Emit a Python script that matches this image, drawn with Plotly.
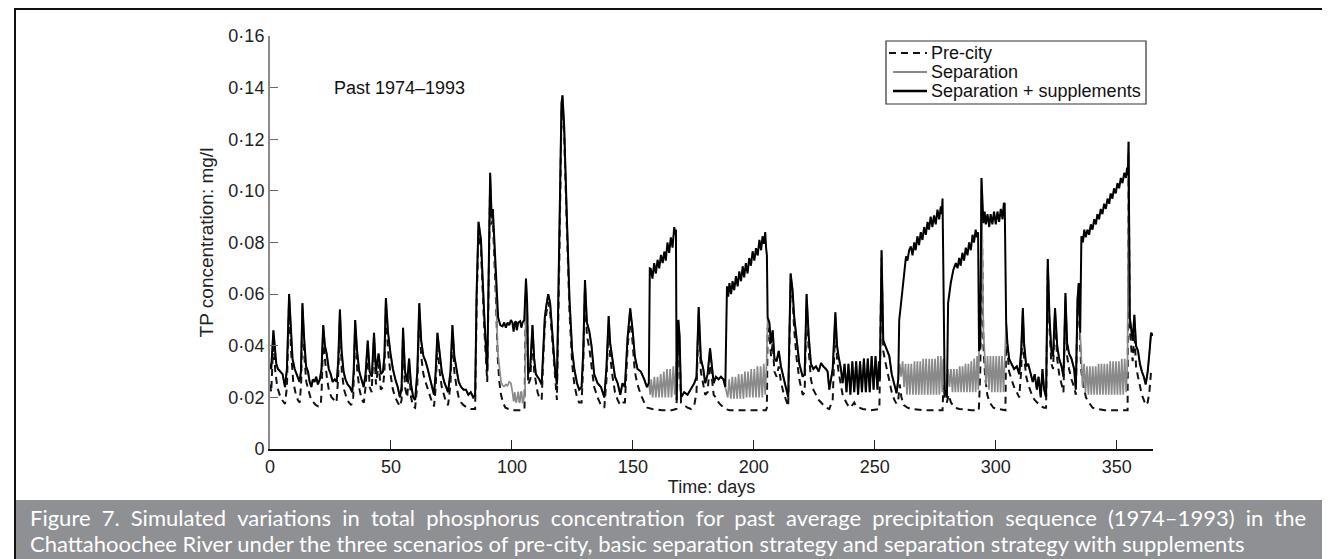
import plotly.graph_objects as go

# ---------------- data ----------------
# Separation + supplements (black solid): (day, TP mg/l) vertices
supp_pts = [
    (0, 0.033), (0.5, 0.031), (1.4, 0.046), (2, 0.038), (2.6, 0.033), (3.3, 0.031), (4.2, 0.030), (5.2, 0.029),
    (6.2, 0.024), (7, 0.031), (7.9, 0.060), (8.6, 0.045), (9.3, 0.035), (10.2, 0.031), (11.1, 0.029), (12.2, 0.026),
    (12.8, 0.030), (13.4, 0.0565), (14.1, 0.043), (14.9, 0.032), (15.7, 0.030), (16.4, 0.026), (17.1, 0.024), (17.7, 0.027),
    (18.4, 0.026), (19.1, 0.028), (19.8, 0.025), (20.6, 0.027), (21.3, 0.031), (22, 0.048), (22.7, 0.040), (23.4, 0.037),
    (24.3, 0.031), (25.1, 0.029), (25.9, 0.026), (26.8, 0.027), (27.6, 0.026), (28.2, 0.034), (28.9, 0.054), (29.6, 0.038),
    (30.4, 0.030), (31.2, 0.027), (32.1, 0.025), (33, 0.024), (34, 0.022), (34.6, 0.030), (35.2, 0.050), (36, 0.038),
    (36.9, 0.030), (37.8, 0.027), (38.7, 0.024), (39.5, 0.029), (40.4, 0.042), (41.2, 0.030), (42.1, 0.028), (43, 0.045),
    (43.8, 0.030), (44.9, 0.037), (45.8, 0.029), (46.7, 0.030), (47.3, 0.036), (47.9, 0.0585), (48.8, 0.045), (49.8, 0.037),
    (50.8, 0.031), (51.8, 0.027), (52.8, 0.024), (53.7, 0.020), (54.4, 0.024), (55, 0.047), (55.8, 0.030), (56.7, 0.026),
    (57.5, 0.035), (58.3, 0.025), (59.2, 0.020), (60, 0.019), (60.9, 0.030), (61.7, 0.0565), (62.5, 0.042), (63.4, 0.036),
    (64.3, 0.034), (65.2, 0.031), (66.1, 0.027), (67, 0.024), (67.8, 0.021), (68.5, 0.030), (69.2, 0.045), (70, 0.038),
    (71, 0.030), (72, 0.026), (72.8, 0.024), (73.6, 0.022), (74.6, 0.030), (75.4, 0.048), (76.2, 0.036), (77.1, 0.030),
    (78, 0.026), (79, 0.024), (80, 0.023), (81, 0.023), (82, 0.021), (83, 0.022), (84, 0.020), (84.8, 0.021),
    (85.4, 0.060), (86.2, 0.088), (87.2, 0.081), (88.6, 0.051), (89.8, 0.030), (91.0, 0.107), (91.6, 0.090), (92.1, 0.093),
    (92.7, 0.081), (93.4, 0.064), (94.3, 0.051), (95.2, 0.048), (96.1, 0.0475), (96.8, 0.049), (97.5, 0.047), (98.2, 0.049),
    (98.9, 0.048), (99.6, 0.050), (100.2, 0.049), (100.7, 0.0455), (101.2, 0.049), (101.6, 0.0495), (102.0, 0.046), (102.6, 0.049),
    (103.4, 0.0495), (103.9, 0.047), (104.4, 0.049), (105.1, 0.050), (105.8, 0.066), (106.3, 0.0565), (106.7, 0.029), (107.6, 0.032),
    (108.5, 0.048), (109.2, 0.035), (109.9, 0.029), (110.6, 0.028), (111.3, 0.027), (112.3, 0.025), (113.0, 0.041), (113.6, 0.051),
    (114.3, 0.056), (115.0, 0.060), (115.8, 0.0565), (116.8, 0.044), (117.8, 0.031), (118.6, 0.025), (119.6, 0.077), (120.5, 0.134),
    (120.9, 0.137), (121.6, 0.125), (122.7, 0.090), (123.8, 0.058), (124.9, 0.038), (125.8, 0.031), (126.9, 0.0255), (127.8, 0.023),
    (128.8, 0.024), (129.5, 0.038), (130.2, 0.0655), (131.0, 0.049), (132.0, 0.0455), (132.9, 0.040), (134.0, 0.029), (135.4, 0.0255),
    (136.8, 0.024), (138.2, 0.020), (139.1, 0.032), (140.0, 0.0515), (140.6, 0.041), (141.6, 0.035), (142.6, 0.028), (143.7, 0.0255),
    (144.8, 0.021), (145.7, 0.0255), (146.7, 0.024), (147.8, 0.043), (148.9, 0.0545), (149.9, 0.046), (150.8, 0.036), (151.9, 0.031),
    (153.3, 0.030), (154.7, 0.027), (155.8, 0.024), (156.6, 0.0255), (157.0, 0.070), (157.4, 0.0698), (158.1, 0.066), (158.8, 0.072),
    (159.5, 0.068), (160.2, 0.0733), (160.9, 0.070), (161.6, 0.0752), (162.3, 0.072), (163.0, 0.0765), (163.6, 0.073), (164.3, 0.080),
    (165.0, 0.076), (165.7, 0.082), (166.4, 0.078), (167.1, 0.086), (167.5, 0.083), (167.8, 0.085), (168.1, 0.019), (168.8, 0.050),
    (169.3, 0.044), (169.9, 0.020), (171.2, 0.022), (172.6, 0.021), (174.0, 0.023), (175.4, 0.0255), (176.3, 0.028), (177.2, 0.055),
    (178.1, 0.035), (179.1, 0.031), (179.9, 0.0255), (180.9, 0.029), (181.9, 0.039), (182.6, 0.033), (183.4, 0.0255), (184.3, 0.028),
    (185.4, 0.027), (186.4, 0.028), (187.4, 0.027), (188.2, 0.024), (188.9, 0.063), (189.4, 0.059), (189.9, 0.0643), (190.6, 0.060),
    (191.2, 0.065), (191.9, 0.0615), (192.6, 0.067), (193.3, 0.063), (194.0, 0.0688), (194.7, 0.065), (195.4, 0.0708), (196.0, 0.0665),
    (196.7, 0.072), (197.4, 0.068), (198.1, 0.074), (198.8, 0.071), (199.5, 0.0766), (200.2, 0.073), (200.9, 0.0778), (201.6, 0.075),
    (202.3, 0.081), (203.0, 0.077), (203.6, 0.0824), (204.2, 0.0795), (204.7, 0.084), (205.1, 0.0775), (205.4, 0.075), (205.7, 0.051),
    (206.4, 0.049), (207.1, 0.041), (207.8, 0.046), (208.5, 0.035), (209.4, 0.034), (210.3, 0.038), (211.2, 0.032), (212.2, 0.028),
    (213.3, 0.024), (214.2, 0.020), (215.2, 0.068), (216.0, 0.0617), (216.7, 0.051), (217.7, 0.041), (218.8, 0.033), (220.2, 0.028),
    (221.0, 0.029), (221.8, 0.060), (222.7, 0.0436), (223.6, 0.033), (224.6, 0.031), (225.7, 0.032), (226.8, 0.030), (227.8, 0.0333),
    (228.7, 0.032), (229.8, 0.031), (230.5, 0.030), (231.2, 0.023), (232.6, 0.031), (233.7, 0.053), (234.4, 0.040), (235.0, 0.036),
    (236.0, 0.031), (236.7, 0.0255), (237.5, 0.033), (238.3, 0.022), (239.1, 0.033), (239.9, 0.021), (240.7, 0.034), (241.5, 0.022),
    (242.3, 0.034), (243.1, 0.021), (243.9, 0.034), (244.7, 0.022), (245.5, 0.035), (246.3, 0.022), (247.1, 0.035), (247.9, 0.022),
    (248.7, 0.036), (249.5, 0.023), (250.3, 0.036), (251.1, 0.023), (251.7, 0.034), (252.1, 0.027),
    (252.8, 0.077), (253.5, 0.042), (254.3, 0.040), (255.3, 0.038), (256.0, 0.036), (257.0, 0.029), (258.1, 0.025), (259.0, 0.0216),
    (259.7, 0.027), (260.1, 0.050), (260.8, 0.056), (261.5, 0.0617), (262.2, 0.068), (262.9, 0.0746), (263.5, 0.073), (264.2, 0.077),
    (264.9, 0.0785), (265.6, 0.075), (266.3, 0.080), (266.9, 0.077), (267.6, 0.0824), (268.3, 0.079), (269.0, 0.084), (269.7, 0.081),
    (270.4, 0.086), (271.1, 0.083), (271.8, 0.088), (272.4, 0.085), (273.1, 0.090), (273.8, 0.086), (274.5, 0.0905), (275.2, 0.087),
    (275.9, 0.0927), (276.6, 0.089), (277.3, 0.094), (277.7, 0.091), (278.0, 0.097), (278.4, 0.060), (278.9, 0.023), (279.8, 0.020),
    (280.3, 0.0565), (281.4, 0.0643), (282.5, 0.0695), (283.5, 0.072), (284.2, 0.070), (284.9, 0.074), (285.5, 0.071), (286.2, 0.076),
    (286.9, 0.073), (287.6, 0.078), (288.3, 0.075), (289.0, 0.080), (289.7, 0.077), (290.4, 0.083), (291.0, 0.080), (291.7, 0.085),
    (292.2, 0.082), (292.7, 0.084), (293.1, 0.038), (293.6, 0.040), (294.1, 0.105), (294.9, 0.0875), (295.4, 0.092), (295.9, 0.087),
    (296.6, 0.091), (297.3, 0.086), (297.9, 0.091), (298.6, 0.087), (299.3, 0.092), (300.0, 0.087), (300.7, 0.092), (301.4, 0.088),
    (302.1, 0.093), (302.8, 0.089), (303.3, 0.095), (303.7, 0.0953), (304.3, 0.049), (304.8, 0.041), (305.5, 0.035), (306.5, 0.033),
    (307.6, 0.031), (308.7, 0.032), (309.7, 0.029), (310.5, 0.038), (311.2, 0.0546), (311.7, 0.041), (312.6, 0.032), (313.4, 0.033),
    (314.5, 0.029), (315.3, 0.026), (316.1, 0.029), (317.0, 0.023), (317.7, 0.028), (318.6, 0.020), (319.3, 0.031), (320.0, 0.023),
    (320.8, 0.020), (321.5, 0.0736), (322.2, 0.051), (323.0, 0.038), (323.7, 0.036), (324.5, 0.0546), (325.4, 0.040), (326.2, 0.035),
    (327.2, 0.032), (328.0, 0.028), (328.8, 0.0604), (329.5, 0.041), (330.3, 0.037), (331.3, 0.035), (332.4, 0.031), (333.1, 0.023),
    (333.8, 0.058), (334.3, 0.0643), (334.9, 0.045), (335.4, 0.0824), (336.0, 0.080), (336.6, 0.085), (337.2, 0.082), (337.9, 0.085),
    (338.6, 0.083), (339.3, 0.087), (340.0, 0.085), (340.7, 0.089), (341.4, 0.087), (342.0, 0.091), (342.7, 0.089), (343.4, 0.093),
    (344.1, 0.091), (344.8, 0.095), (345.5, 0.093), (346.2, 0.097), (346.9, 0.095), (347.5, 0.099), (348.2, 0.097), (348.9, 0.101),
    (349.6, 0.099), (350.3, 0.103), (351.0, 0.101), (351.7, 0.105), (352.4, 0.103), (353.1, 0.107), (353.8, 0.105), (354.3, 0.109),
    (354.6, 0.106), (354.9, 0.119), (355.4, 0.051), (356.1, 0.045), (356.6, 0.042), (357.3, 0.052), (358.0, 0.040), (358.8, 0.038),
    (359.6, 0.033), (360.4, 0.030), (361.2, 0.028), (362.0, 0.025), (362.8, 0.030), (363.5, 0.037), (364.2, 0.045), (365.0, 0.044),
]

# Separation (grey): identical to the black curve except inside the supplement periods below
supplement_periods = [(93.5, 105.7), (156.8, 168.0), (188.8, 205.5), (259.9, 278.5),
                      (280.0, 293.0), (294.5, 304.0), (335.2, 354.8)]
sep_period_pts = [
    (94.1, 0.038), (94.8, 0.031), (95.5, 0.026), (96.2, 0.0245), (96.8, 0.0242), (97.5, 0.025), (98.2, 0.0245), (98.9, 0.026),
    (99.6, 0.0255), (100.3, 0.0216), (100.7, 0.0184), (101.2, 0.022), (101.6, 0.018), (101.9, 0.0184), (102.3, 0.022), (102.6, 0.0222),
    (103.0, 0.018), (103.3, 0.0182), (103.7, 0.022), (104.0, 0.0222), (104.4, 0.018), (104.7, 0.018), (105.1, 0.021), (105.4, 0.020),
    (157.2, 0.021), (157.6, 0.027), (158.2, 0.020), (158.9, 0.028), (159.5, 0.020), (160.2, 0.028), (160.8, 0.020), (161.5, 0.029),
    (162.1, 0.020), (162.8, 0.030), (163.4, 0.020), (164.1, 0.031), (164.7, 0.020), (165.4, 0.031), (166.0, 0.020), (166.7, 0.032),
    (167.3, 0.021), (167.9, 0.034),
    (189.2, 0.020), (189.8, 0.027), (190.5, 0.0195), (191.1, 0.028), (191.8, 0.0195), (192.4, 0.028), (193.1, 0.0195), (193.7, 0.029),
    (194.4, 0.0195), (195.0, 0.029), (195.7, 0.0195), (196.3, 0.030), (197.0, 0.020), (197.6, 0.030), (198.3, 0.020), (198.9, 0.031),
    (199.6, 0.020), (200.2, 0.031), (200.9, 0.020), (201.5, 0.032), (202.2, 0.020), (202.8, 0.032), (203.5, 0.020), (204.1, 0.033),
    (204.7, 0.021), (205.3, 0.034),
    (260.3, 0.033), (260.9, 0.028), (261.5, 0.034), (262.1, 0.024), (262.7, 0.033), (263.3, 0.021), (263.9, 0.033), (264.5, 0.021),
    (265.1, 0.033), (265.8, 0.021), (266.4, 0.034), (267.0, 0.021), (267.6, 0.034), (268.2, 0.021), (268.8, 0.034), (269.4, 0.021),
    (270.0, 0.035), (270.6, 0.021), (271.2, 0.035), (271.9, 0.021), (272.5, 0.035), (273.1, 0.021), (273.7, 0.035), (274.3, 0.021),
    (274.9, 0.035), (275.5, 0.021), (276.1, 0.036), (276.7, 0.021), (277.3, 0.036), (277.9, 0.022), (278.3, 0.035),
    (280.3, 0.031), (280.9, 0.024), (281.5, 0.031), (282.1, 0.022), (282.7, 0.031), (283.3, 0.022), (283.9, 0.031), (284.5, 0.022),
    (285.1, 0.032), (285.7, 0.022), (286.3, 0.032), (286.9, 0.022), (287.5, 0.033), (288.1, 0.022), (288.7, 0.033), (289.3, 0.022),
    (289.9, 0.034), (290.5, 0.022), (291.1, 0.035), (291.7, 0.022), (292.3, 0.036), (292.8, 0.023),
    (294.9, 0.045), (295.4, 0.037), (296.0, 0.025), (296.6, 0.036), (297.2, 0.023), (297.8, 0.036), (298.4, 0.022), (299.0, 0.036),
    (299.6, 0.022), (300.2, 0.036), (300.8, 0.022), (301.4, 0.036), (302.0, 0.022), (302.6, 0.036), (303.2, 0.022), (303.8, 0.036),
    (335.4, 0.034), (335.9, 0.024), (336.5, 0.033), (337.1, 0.022), (337.7, 0.032), (338.3, 0.021), (338.9, 0.032), (339.5, 0.021),
    (340.1, 0.032), (340.7, 0.021), (341.3, 0.032), (341.9, 0.021), (342.5, 0.033), (343.1, 0.021), (343.7, 0.033), (344.3, 0.021),
    (344.9, 0.033), (345.5, 0.021), (346.1, 0.033), (346.7, 0.021), (347.3, 0.034), (347.9, 0.021), (348.5, 0.034), (349.1, 0.021),
    (349.7, 0.034), (350.3, 0.021), (350.9, 0.034), (351.5, 0.021), (352.1, 0.035), (352.7, 0.021), (353.3, 0.035), (353.9, 0.022),
    (354.5, 0.035),
]

# Pre-city (dashed)
precity_pts = [
    (0, 0.025), (0.5, 0.022), (1.4, 0.042), (2.2, 0.030), (3, 0.024), (4, 0.021), (5, 0.019), (6.2, 0.0175),
    (7, 0.024), (7.9, 0.057), (8.7, 0.038), (9.6, 0.026), (10.5, 0.022), (11.5, 0.019), (12.3, 0.018), (12.9, 0.026),
    (13.4, 0.054), (14.2, 0.036), (15, 0.026), (16, 0.022), (17, 0.019), (18, 0.018), (19, 0.017), (20, 0.0165),
    (21, 0.017), (21.4, 0.024), (22, 0.045), (22.8, 0.034), (23.6, 0.027), (24.5, 0.022), (25.5, 0.020), (26.5, 0.019),
    (27.5, 0.018), (28.2, 0.028), (28.9, 0.051), (29.7, 0.030), (30.6, 0.023), (31.6, 0.020), (32.6, 0.018), (33.6, 0.017),
    (34.4, 0.020), (35.2, 0.047), (36.1, 0.030), (37, 0.023), (38, 0.019), (38.8, 0.018), (39.6, 0.025), (40.4, 0.039),
    (41.2, 0.024), (42, 0.022), (43, 0.042), (43.8, 0.025), (44.9, 0.033), (45.8, 0.023), (46.7, 0.024), (47.3, 0.030),
    (47.9, 0.055), (48.8, 0.038), (49.8, 0.029), (50.8, 0.023), (51.8, 0.020), (52.8, 0.018), (53.7, 0.0165), (54.4, 0.019),
    (55, 0.044), (55.8, 0.024), (56.7, 0.020), (57.5, 0.030), (58.3, 0.020), (59.2, 0.0165), (60, 0.016), (60.9, 0.025),
    (61.7, 0.053), (62.5, 0.036), (63.4, 0.029), (64.3, 0.026), (65.2, 0.023), (66.1, 0.020), (67, 0.018), (67.8, 0.0165),
    (68.5, 0.024), (69.2, 0.042), (70, 0.031), (71, 0.024), (72, 0.020), (72.8, 0.018), (73.6, 0.017), (74.6, 0.025),
    (75.4, 0.045), (76.2, 0.030), (77.1, 0.024), (78, 0.020), (79, 0.018), (80, 0.017), (81.5, 0.016), (83, 0.0155),
    (84.8, 0.0155), (85.4, 0.055), (86.2, 0.085), (87.2, 0.077), (88.6, 0.046), (89.8, 0.026), (91.0, 0.103), (91.6, 0.087),
    (92.1, 0.089), (92.7, 0.077), (93.4, 0.058), (94.1, 0.036), (94.8, 0.026), (95.5, 0.021), (96.3, 0.018), (97.3, 0.016),
    (98.5, 0.0155), (100, 0.015), (102, 0.015), (104, 0.015), (105.2, 0.0155), (105.8, 0.062), (106.3, 0.052), (106.7, 0.025),
    (107.6, 0.027), (108.5, 0.045), (109.2, 0.030), (109.9, 0.025), (110.6, 0.022), (111.3, 0.020), (112.3, 0.019), (113.0, 0.036),
    (113.6, 0.048), (114.3, 0.053), (115.0, 0.057), (115.8, 0.053), (116.8, 0.040), (117.8, 0.026), (118.6, 0.019), (119.6, 0.073),
    (120.5, 0.131), (120.9, 0.134), (121.6, 0.121), (122.7, 0.086), (123.8, 0.053), (124.9, 0.033), (125.8, 0.025), (126.9, 0.020),
    (127.8, 0.018), (128.8, 0.018), (129.5, 0.033), (130.2, 0.062), (131.0, 0.044), (132.0, 0.039), (132.9, 0.033), (134.0, 0.024),
    (135.4, 0.020), (136.8, 0.017), (138.2, 0.016), (139.1, 0.027), (140.0, 0.048), (140.6, 0.036), (141.6, 0.028), (142.6, 0.022),
    (143.7, 0.019), (144.8, 0.017), (145.7, 0.018), (146.7, 0.018), (147.8, 0.039), (148.9, 0.051), (149.9, 0.041), (150.8, 0.030),
    (151.9, 0.025), (153.3, 0.021), (154.7, 0.018), (156, 0.016), (158, 0.0155), (162, 0.015), (166, 0.015), (168.0, 0.0155),
    (168.5, 0.030), (168.8, 0.047), (169.3, 0.040), (169.9, 0.018), (171.2, 0.017), (172.6, 0.016), (174.0, 0.0155), (175.4, 0.017),
    (176.3, 0.022), (177.2, 0.052), (178.1, 0.030), (179.1, 0.025), (179.9, 0.021), (180.9, 0.022), (181.9, 0.035), (182.6, 0.028),
    (183.4, 0.021), (184.3, 0.020), (185.4, 0.018), (186.4, 0.017), (187.4, 0.016), (188.2, 0.0155), (190, 0.015), (195, 0.015),
    (200, 0.015), (205, 0.015), (205.4, 0.016), (205.7, 0.047), (206.4, 0.045), (207.1, 0.036), (207.8, 0.041), (208.5, 0.030),
    (209.4, 0.028), (210.3, 0.032), (211.2, 0.026), (212.2, 0.022), (213.3, 0.019), (214.2, 0.0165), (215.2, 0.064), (216.0, 0.058),
    (216.7, 0.046), (217.7, 0.035), (218.8, 0.027), (220.2, 0.021), (221.0, 0.022), (221.8, 0.056), (222.7, 0.038), (223.6, 0.027),
    (224.6, 0.023), (225.7, 0.021), (226.8, 0.019), (227.8, 0.018), (228.7, 0.017), (229.8, 0.016), (231.2, 0.0155), (232.6, 0.019),
    (233.7, 0.049), (234.4, 0.035), (235.0, 0.030), (236.0, 0.025), (236.7, 0.021), (237.7, 0.019), (238.8, 0.017), (240, 0.016),
    (241.5, 0.018), (242.3, 0.0165), (243.5, 0.016), (245, 0.0155), (248, 0.015), (251.9, 0.0155), (252.8, 0.074), (253.5, 0.038),
    (254.3, 0.034), (255.3, 0.030), (256.0, 0.027), (257.0, 0.022), (258.1, 0.019), (259.0, 0.0175), (259.7, 0.019), (260.3, 0.025),
    (261.0, 0.020), (262, 0.017), (263.5, 0.016), (265, 0.0155), (270, 0.015), (275, 0.015), (278.0, 0.015), (278.4, 0.025),
    (278.9, 0.020), (279.8, 0.018), (280.5, 0.021), (281.5, 0.018), (283, 0.016), (285, 0.0155), (290, 0.015), (293.0, 0.015),
    (293.6, 0.030), (294.1, 0.100), (294.9, 0.040), (295.6, 0.028), (296.5, 0.021), (297.5, 0.018), (299, 0.016), (301, 0.0155),
    (304.0, 0.015), (304.3, 0.045), (304.8, 0.037), (305.5, 0.030), (306.5, 0.027), (307.6, 0.024), (308.7, 0.022), (309.7, 0.020),
    (310.5, 0.030), (311.2, 0.051), (311.7, 0.036), (312.6, 0.028), (313.4, 0.025), (314.5, 0.022), (315.3, 0.020), (316.1, 0.019),
    (317.0, 0.018), (318.6, 0.0165), (320.0, 0.016), (320.8, 0.016), (321.5, 0.070), (322.2, 0.047), (323.0, 0.033), (323.7, 0.031),
    (324.5, 0.051), (325.4, 0.035), (326.2, 0.029), (327.2, 0.025), (328.0, 0.022), (328.8, 0.057), (329.5, 0.036), (330.3, 0.031),
    (331.3, 0.027), (332.4, 0.024), (333.1, 0.021), (333.8, 0.054), (334.3, 0.060), (334.9, 0.040), (335.4, 0.030), (336.3, 0.024),
    (337.3, 0.020), (338.5, 0.018), (340, 0.016), (342, 0.0155), (345, 0.015), (350, 0.015), (354.5, 0.015), (354.9, 0.115),
    (355.4, 0.047), (356.1, 0.038), (356.6, 0.034), (357.3, 0.045), (358.0, 0.032), (358.8, 0.028), (359.6, 0.024), (360.4, 0.021),
    (361.2, 0.019), (362.0, 0.017), (362.8, 0.018), (363.5, 0.022), (364.2, 0.030), (365.0, 0.029),
]

series_names = ["Pre-city", "Separation", "Separation + supplements"]
y_tick_vals = [0, 0.02, 0.04, 0.06, 0.08, 0.10, 0.12, 0.14, 0.16]
y_tick_text = ["0", "0·02", "0·04", "0·06", "0·08", "0·10", "0·12", "0·14", "0·16"]
x_tick_vals = [0, 50, 100, 150, 200, 250, 300, 350]

caption_line1 = ("Figure 7. Simulated variations in total phosphorus concentration for past average "
                 "precipitation sequence (1974–1993) in the")
caption_line2 = ("Chattahoochee River under the three scenarios of pre-city, basic separation strategy "
                 "and separation strategy with supplements")

# ---------------- assemble series ----------------
def in_period(d):
    return any(a < d < b for a, b in supplement_periods)

sep_pts = sorted([p for p in supp_pts if not in_period(p[0])] + sep_period_pts)

supp_x, supp_y = zip(*supp_pts)
sep_x, sep_y = zip(*sep_pts)
pre_x, pre_y = zip(*precity_pts)

FONT = "Liberation Sans, Arial, sans-serif"
DASH = "7px,5px"
C_BLACK, C_GREY = "#000000", "#8a8a8a"

fig = go.Figure()
fig.add_trace(go.Scatter(x=pre_x, y=pre_y, mode="lines", name=series_names[0],
                         line=dict(color="#111111", width=2, dash=DASH)))
fig.add_trace(go.Scatter(x=sep_x, y=sep_y, mode="lines", name=series_names[1],
                         line=dict(color=C_GREY, width=1.7)))
fig.add_trace(go.Scatter(x=supp_x, y=supp_y, mode="lines", name=series_names[2],
                         line=dict(color=C_BLACK, width=2)))

W, H = 1330, 559
L, R, T, B = 262, 185, 28, 118
pw, ph = W - L - R, H - T - B

def px(xpix):
    return (xpix - L) / pw

def py(ypix):
    return (H - B - ypix) / ph

fig.update_layout(
    width=W, height=H,
    margin=dict(l=L, r=R, t=T, b=B),
    paper_bgcolor="white", plot_bgcolor="white",
    font=dict(family=FONT, size=18, color="#222222"),
    showlegend=False,
    xaxis=dict(range=[0, 365], tickvals=x_tick_vals, ticks="inside", ticklen=9,
               tickcolor="#222222", showline=True, linecolor="#111111", linewidth=2,
               showgrid=False, zeroline=False,
               title=dict(text="Time: days", standoff=4, font=dict(size=18)),
               tickfont=dict(size=18)),
    yaxis=dict(range=[0, 0.16], tickvals=y_tick_vals, ticktext=y_tick_text, ticks="inside",
               ticklen=8, tickcolor="#666666", showline=True, linecolor="#8a8a8a", linewidth=2,
               showgrid=False, zeroline=False,
               title=dict(text="TP concentration: mg/l", standoff=10, font=dict(size=19)),
               tickfont=dict(size=18)),
)

fig.add_annotation(x=25.8, y=0.1399, xref="x", yref="y", text="Past 1974–1993",
                   showarrow=False, xanchor="left", yanchor="middle",
                   font=dict(family=FONT, size=18, color="#111111"))

# legend box drawn as shapes + text (keeps the compact row spacing of the original)
fig.add_shape(type="rect", xref="paper", yref="paper", x0=px(878), x1=px(1138), y0=py(96), y1=py(33),
              fillcolor="white", line=dict(color="#333333", width=1.2))
legend_rows = [(45, dict(color="#111111", width=2, dash=DASH), 881),
               (64, dict(color=C_GREY, width=2), 885),
               (83, dict(color=C_BLACK, width=2.5), 885)]
for (ry, lstyle, lx0), name in zip(legend_rows, series_names):
    fig.add_shape(type="line", xref="paper", yref="paper", x0=px(lx0), x1=px(919), y0=py(ry), y1=py(ry),
                  line=lstyle)
    fig.add_annotation(x=px(921), y=py(ry), xref="paper", yref="paper", text=name, showarrow=False,
                       xanchor="left", yanchor="middle", font=dict(family=FONT, size=18, color="#111111"))

# caption band and figure frame
fig.add_shape(type="rect", xref="paper", yref="paper",
              x0=px(8), x1=px(1322), y0=py(557), y1=py(492),
              fillcolor="#8e9094", line=dict(width=0), layer="below")
fig.add_shape(type="rect", xref="paper", yref="paper",
              x0=px(7), x1=px(1323), y0=py(558), y1=py(1),
              fillcolor="rgba(0,0,0,0)", line=dict(color="#111111", width=2))

CAP_FONT = "Lato, Open Sans, sans-serif"
justified1 = caption_line1.replace(" ", " \u2005")
fig.add_annotation(x=px(20), y=py(509), xref="paper", yref="paper", text=justified1,
                   showarrow=False, xanchor="left", yanchor="middle",
                   font=dict(family=CAP_FONT, size=22, color="white"))
fig.add_annotation(x=px(20), y=py(535), xref="paper", yref="paper", text=caption_line2,
                   showarrow=False, xanchor="left", yanchor="middle",
                   font=dict(family=CAP_FONT, size=22, color="white"))

fig.write_html("out.html")
